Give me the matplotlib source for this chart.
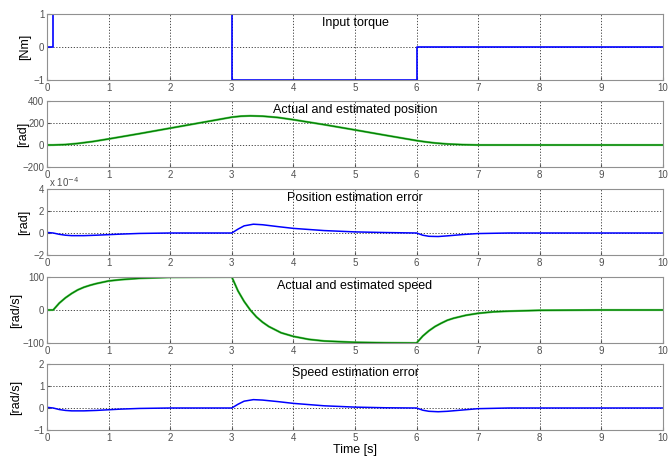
import matplotlib
matplotlib.use("Agg")
from matplotlib import pyplot as plt

plt.rcParams["font.family"] = ["Liberation Sans", "DejaVu Sans"]

# input torque (step signal)
torque_t = [0, 0.1, 0.1, 3, 3, 6, 6, 10]
torque = [0, 0, 1, 1, -1, -1, 0, 0]

# actual / estimated position [rad]
pos_t = [0, 0.1, 0.3, 0.5, 0.75, 1, 1.5, 2, 2.5, 3, 3.15, 3.3, 3.5, 3.75, 4, 4.5, 5, 5.5, 6,
         6.15, 6.3, 6.5, 6.75, 7, 8, 10]
pos = [0, 0, 4, 14, 32, 55, 103, 153, 203, 253, 262, 265, 262, 250, 230, 185, 137, 88, 40,
       28, 18, 9, 3, 0, 0, 0]

# position estimation error [x 1e-4 rad]
perr_t = [0, 0.0, 0.1, 0.2, 0.3, 0.4, 0.6, 0.8, 1.0, 1.2, 1.5, 2, 3, 3.1, 3.2, 3.35, 3.5, 3.75,
          4, 4.5, 5, 5.5, 6, 6.1, 6.2, 6.35, 6.5, 6.75, 7, 7.5, 10]
perr = [2.7, 0.05, 0.0, -0.12, -0.2, -0.24, -0.24, -0.2, -0.15, -0.1, -0.04, 0, 0, 0.35, 0.65,
        0.8, 0.75, 0.58, 0.42, 0.22, 0.1, 0.04, 0, -0.2, -0.3, -0.32, -0.26, -0.14, -0.05, 0, 0]

# actual / estimated speed [rad/s]
spd_t = [0, 0.1, 0.2, 0.3, 0.4, 0.5, 0.6, 0.7, 0.8, 1.0, 1.2, 1.5, 2, 2.5, 3,
         3.1, 3.2, 3.3, 3.4, 3.5, 3.6, 3.8, 4, 4.25, 4.5, 5, 5.5, 6,
         6.1, 6.2, 6.3, 6.4, 6.5, 6.6, 6.8, 7, 7.25, 7.5, 8, 9, 10]
spd = [0, 0, 21, 37, 50, 61, 69, 75, 80, 88, 92, 96, 99, 99.6, 100,
       58, 26, 0, -21, -37, -50, -69, -80, -89, -94, -98, -99.4, -100,
       -79, -63, -50, -40, -31, -25, -16, -10, -5.5, -3.5, -1, 0, 0]

# speed estimation error [rad/s]
serr_t = [0, 0.0, 0.1, 0.2, 0.3, 0.4, 0.6, 0.8, 1.0, 1.2, 1.5, 2, 3, 3.1, 3.2, 3.35, 3.5, 3.75,
          4, 4.5, 5, 5.5, 6, 6.1, 6.2, 6.35, 6.5, 6.75, 7, 7.5, 10]
serr = [2.0, 0.03, 0.0, -0.07, -0.11, -0.13, -0.13, -0.11, -0.08, -0.05, -0.02, 0, 0, 0.17, 0.31,
        0.38, 0.36, 0.29, 0.21, 0.1, 0.04, 0.01, 0, -0.1, -0.15, -0.17, -0.15, -0.09, -0.03, 0, 0]

titles = ["Input torque", "Actual and estimated position", "Position estimation error",
          "Actual and estimated speed", "Speed estimation error"]
ylabels = ["[Nm]", "[rad]", "[rad]", "[rad/s]", "[rad/s]"]
ylims = [(-1, 1), (-200, 400), (-2, 4), (-100, 100), (-1, 2)]
yticks = [[-1, 0, 1], [-200, 0, 200, 400], [-2, 0, 2, 4], [-100, 0, 100], [-1, 0, 1, 2]]


def main():
    fig = plt.figure(figsize=(6.68, 4.59), dpi=100)
    left, width, height = 47 / 668, 616 / 668, 66 / 459
    tops = [14, 101, 189, 277, 364]
    label_x = [31, 29, 30, 22, 22]
    axes = [fig.add_axes([left, 1 - (t + 66) / 459, width, height]) for t in tops]

    axes[0].plot(torque_t, torque, color="#0000ff", lw=1.2)
    axes[1].plot(pos_t, pos, color="#66cc66", lw=1.6)
    axes[1].plot(pos_t, pos, color="#007f00", lw=0.9)
    axes[2].plot(perr_t, perr, color="#0000ff", lw=1.1)
    axes[3].plot(spd_t, spd, color="#66cc66", lw=1.6)
    axes[3].plot(spd_t, spd, color="#007f00", lw=0.9)
    axes[4].plot(serr_t, serr, color="#0000ff", lw=1.1)

    for i, ax in enumerate(axes):
        ax.set_xlim(0, 10)
        ax.set_ylim(*ylims[i])
        ax.set_xticks(range(11))
        ax.set_yticks(yticks[i])
        ax.tick_params(labelsize=7, colors="#505050", length=2, direction="in", pad=2)
        for s in ax.spines.values():
            s.set_color("#909090")
        ax.grid(True, color="#303030", linestyle=(0, (1.5, 2)), linewidth=0.6)
        ax.set_ylabel(ylabels[i], fontsize=9)
        ax.yaxis.set_label_coords((label_x[i] - 47) / 616, 0.5)
        ax.text(0.5, 0.96, titles[i], transform=ax.transAxes, ha="center", va="top", fontsize=9)

    axes[2].text(0.004, 1.0, r"x 10$^{-4}$", transform=axes[2].transAxes, fontsize=7,
                 color="#505050", ha="left", va="bottom")
    axes[4].set_xlabel("Time [s]", fontsize=9, labelpad=1)

    fig.savefig("out.png", dpi=100)


if __name__ == "__main__":
    main()
